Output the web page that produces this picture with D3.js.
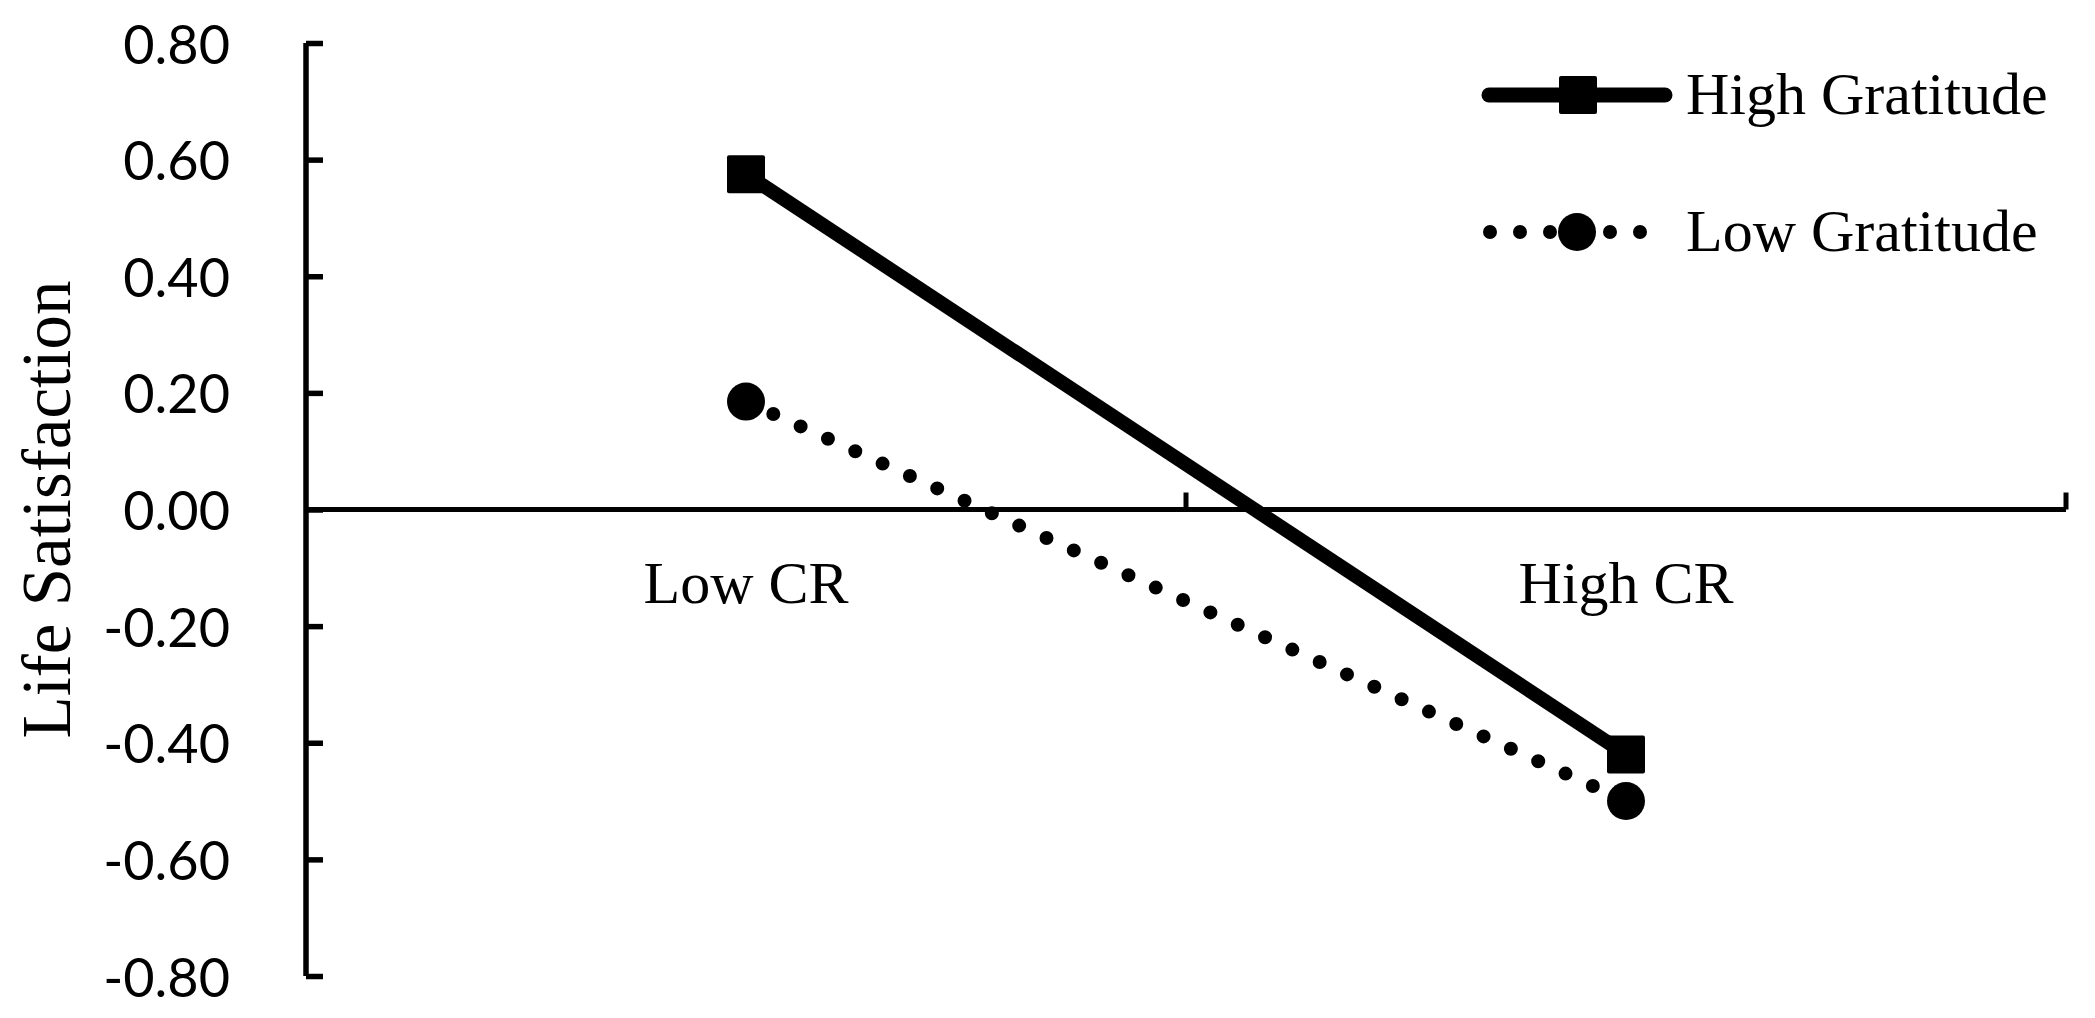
<!DOCTYPE html>
<html>
<head>
<meta charset="utf-8">
<script src="https://cdn.jsdelivr.net/npm/d3@7"></script>
<style>
  html, body { margin: 0; padding: 0; background: #fff; }
  svg { display: block; }
</style>
</head>
<body>
<script>
// ---- data ----
const categories = ["Low CR", "High CR"];
const seriesNames = ["High Gratitude", "Low Gratitude"];
const highGratitude = [0.575, -0.42];
const lowGratitude = [0.185, -0.50];
const yTicks = [0.8, 0.6, 0.4, 0.2, 0.0, -0.2, -0.4, -0.6, -0.8];
const yTitle = "Life Satisfaction";

const W = 2095, H = 1018;
const svg = d3.select("body").append("svg").attr("width", W).attr("height", H);

const serif = "'Liberation Serif','Times New Roman',serif";
const sans = "Lato,'Open Sans',sans-serif";

const x = d3.scaleBand().domain(categories).range([306, 2066]).padding(0);
const y = d3.scaleLinear().domain([-0.8, 0.8]).range([976, 43]);

// y axis
const yAxis = d3.axisRight(y).tickValues(yTicks).tickSize(17).tickFormat("");
const gy = svg.append("g").attr("transform", `translate(${x.range()[0]},0)`).call(yAxis);
gy.select(".domain").attr("stroke", "#000").attr("stroke-width", 5.5)
  .attr("d", `M0,${y(0.8)}V${y(-0.8)}`);
gy.selectAll(".tick line").attr("stroke", "#000").attr("stroke-width", 5.5);

// y tick labels (hyphen-minus as in the original)
const fmt = d => d3.format(".2f")(d).replace("\u2212", "-");
svg.append("g").selectAll("text").data(yTicks).join("text")
  .attr("x", 230).attr("y", d => y(d))
  .attr("text-anchor", "end").attr("dominant-baseline", "central")
  .attr("font-family", sans).attr("font-size", 54).attr("fill", "#000")
  .text(fmt);

// x axis at y=0
const xBoundaries = [x.range()[0] + x.bandwidth(), x.range()[1]];
const gx = svg.append("g").attr("transform", `translate(0,${y(0)})`);
gx.append("path").attr("d", `M${x.range()[0]},0H${x.range()[1]}`)
  .attr("stroke", "#000").attr("stroke-width", 5).attr("fill", "none");
gx.selectAll("line.tick").data(xBoundaries).join("line")
  .attr("class", "tick")
  .attr("x1", d => d).attr("x2", d => d).attr("y1", 0).attr("y2", -17)
  .attr("stroke", "#000").attr("stroke-width", 5);

// category labels
svg.append("g").selectAll("text").data(categories).join("text")
  .attr("x", d => x(d) + x.bandwidth() / 2).attr("y", 603)
  .attr("text-anchor", "middle")
  .attr("font-family", serif).attr("font-size", 60).attr("fill", "#000")
  .text(d => d);

// y title
svg.append("text")
  .attr("transform", `translate(70,${(y(0.8) + y(-0.8)) / 2}) rotate(-90)`)
  .attr("text-anchor", "middle")
  .attr("font-family", serif).attr("font-size", 69).attr("fill", "#000")
  .text(yTitle);

const cx = d => x(d) + x.bandwidth() / 2;
const line = d3.line().x(d => cx(d.c)).y(d => y(d.v));

const hiData = categories.map((c, i) => ({ c, v: highGratitude[i] }));
const loData = categories.map((c, i) => ({ c, v: lowGratitude[i] }));

// Low gratitude dotted
svg.append("path").datum(loData).attr("d", line)
  .attr("fill", "none").attr("stroke", "#000").attr("stroke-width", 14)
  .attr("stroke-linecap", "round").attr("stroke-dasharray", "0 30");
// High gratitude solid
svg.append("path").datum(hiData).attr("d", line)
  .attr("fill", "none").attr("stroke", "#000").attr("stroke-width", 14);

const sq = 38;
svg.append("g").selectAll("rect").data(hiData).join("rect")
  .attr("x", d => cx(d.c) - sq / 2).attr("y", d => y(d.v) - sq / 2)
  .attr("width", sq).attr("height", sq).attr("rx", 2).attr("fill", "#000");
svg.append("g").selectAll("circle").data(loData).join("circle")
  .attr("cx", d => cx(d.c)).attr("cy", d => y(d.v)).attr("r", 19).attr("fill", "#000");

// legend
const leg = svg.append("g");
const lx0 = 1482, lx1 = 1672, lxm = 1578;
const ly = [95, 232];
leg.append("line").attr("x1", lx0 + 7).attr("x2", lx1 - 7).attr("y1", ly[0]).attr("y2", ly[0])
  .attr("stroke", "#000").attr("stroke-width", 15).attr("stroke-linecap", "round");
leg.append("rect").attr("x", lxm - sq / 2).attr("y", ly[0] - sq / 2).attr("width", sq).attr("height", sq)
  .attr("rx", 2).attr("fill", "#000");
leg.append("line").attr("x1", 1490).attr("x2", 1670).attr("y1", ly[1]).attr("y2", ly[1])
  .attr("stroke", "#000").attr("stroke-width", 14).attr("stroke-linecap", "round")
  .attr("stroke-dasharray", "0 30");
leg.append("circle").attr("cx", lxm - 1).attr("cy", ly[1]).attr("r", 19).attr("fill", "#000");
leg.selectAll("text").data(seriesNames).join("text")
  .attr("x", 1686).attr("y", (d, i) => ly[i] + 19)
  .attr("font-family", serif).attr("font-size", 60).attr("fill", "#000")
  .text(d => d);
</script>
</body>
</html>
